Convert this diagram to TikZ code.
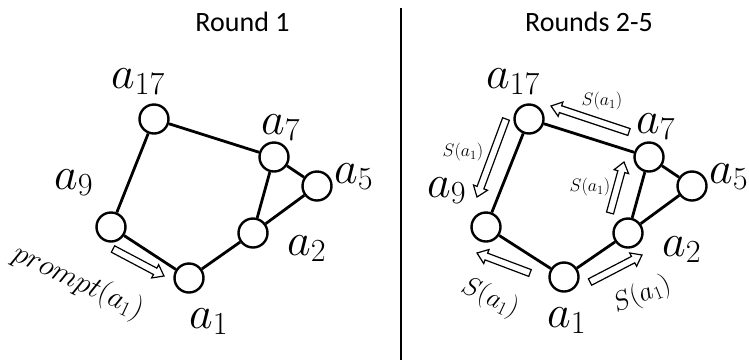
\RequirePackage{fix-cm}
\documentclass[tikz,border=0pt]{standalone}
\usepackage{fontspec}
\newfontfamily\titlefont{Carlito}
\usetikzlibrary{calc}
\tikzset{
  vert/.style={circle, draw, line width=2.4pt, fill=white, minimum size=29pt, inner sep=0pt},
  edge/.style={line width=2.8pt},
  lab/.style={inner sep=0pt, anchor=base west, font=\fontsize{46}{50}\selectfont},
  title/.style={inner sep=0pt, anchor=base, font=\titlefont\fontsize{28}{32}\selectfont},
  harrow/.style={draw, line width=1.2pt, fill=white, line join=miter},
  slab/.style={inner sep=0pt, font=\fontsize{18}{21}\selectfont},
  blab/.style={inner sep=0pt, font=\fontsize{27}{30}\selectfont},
  plab/.style={inner sep=0pt, font=\fontsize{30}{34}\selectfont},
}
\newcommand\hollowarrow[2]{%
  \draw[harrow] ($(#1)!3.6pt!90:(#2)$)
    -- ($(#2)!10pt!(#1)!3.6pt!-90:(#1)$)
    -- ($(#2)!10pt!(#1)!7.5pt!-90:(#1)$)
    -- (#2)
    -- ($(#2)!10pt!(#1)!7.5pt!90:(#1)$)
    -- ($(#2)!10pt!(#1)!3.6pt!90:(#1)$)
    -- ($(#1)!3.6pt!-90:(#2)$) -- cycle;}
\begin{document}
\begin{tikzpicture}[x=1pt, y=-1pt]
\path[fill=white] (0,0) rectangle (749,360);
\useasboundingbox (0,0) rectangle (749,360);
% titles and divider
\node[title] (t1) at (242.5,31.5) {Round 1};
\node[title] (t2) at (589,31.5) {Rounds 2-5};
\coordinate (dtop) at (401,8);
\coordinate (dbot) at (401,360);
\draw[line width=2pt] (dtop) -- (dbot);

% ---------- left graph ----------
\node[vert] (La17) at (154,119) {};
\node[vert] (La7)  at (274,157) {};
\node[vert] (La5)  at (317,186) {};
\node[vert] (La2)  at (253,233) {};
\node[vert] (La1)  at (189,278) {};
\node[vert] (La9)  at (111,227) {};
\draw[edge] (La17) -- (La7);
\draw[edge] (La17) -- (La9);
\draw[edge] (La9) -- (La1);
\draw[edge] (La1) -- (La2);
\draw[edge] (La2) -- (La7);
\draw[edge] (La7) -- (La5);
\draw[edge] (La5) -- (La2);
\node[lab] (Ll17) at (111,88) {$a_{17}$};
\node[lab] (Ll7)  at (261,134) {$a_{7}$};
\node[lab] (Ll5)  at (334,183) {$a_{5}$};
\node[lab] (Ll2)  at (287,255) {$a_{2}$};
\node[lab] (Ll1)  at (189,328) {$a_{1}$};
\node[lab] (Ll9)  at (54,189) {$a_{9}$};
\coordinate (Lp0) at (113,249);
\coordinate (Lp1) at (164,276);
\hollowarrow{Lp0}{Lp1}
\node[plab, rotate=-25] (Lpl) at (78,282) {$prompt(a_1)$};

% ---------- right graph ----------
\node[vert] (Ra17) at (529,119) {};
\node[vert] (Ra7)  at (649,157) {};
\node[vert] (Ra5)  at (692,186) {};
\node[vert] (Ra2)  at (628,233) {};
\node[vert] (Ra1)  at (564,277) {};
\node[vert] (Ra9)  at (486,227) {};
\draw[edge] (Ra17) -- (Ra7);
\draw[edge] (Ra17) -- (Ra9);
\draw[edge] (Ra9) -- (Ra1);
\draw[edge] (Ra1) -- (Ra2);
\draw[edge] (Ra2) -- (Ra7);
\draw[edge] (Ra7) -- (Ra5);
\draw[edge] (Ra5) -- (Ra2);
\node[lab] (Rl17) at (486,88) {$a_{17}$};
\node[lab] (Rl7)  at (636,133) {$a_{7}$};
\node[lab] (Rl5)  at (709,183) {$a_{5}$};
\node[lab] (Rl2)  at (662,256) {$a_{2}$};
\node[lab] (Rl1)  at (547,327) {$a_{1}$};
\node[lab] (Rl9)  at (427,197) {$a_{9}$};

\coordinate (R1s) at (629,132); \coordinate (R1e) at (551,106);
\coordinate (R2s) at (506,119); \coordinate (R2e) at (477,197);
\coordinate (R3s) at (610,213); \coordinate (R3e) at (624,162);
\coordinate (R4s) at (530,273); \coordinate (R4e) at (477,253);
\coordinate (R5s) at (590,282); \coordinate (R5e) at (642,255);
\hollowarrow{R1s}{R1e}
\hollowarrow{R2s}{R2e}
\hollowarrow{R3s}{R3e}
\hollowarrow{R4s}{R4e}
\hollowarrow{R5s}{R5e}
\node[slab] (S1) at (602,101) {$S(a_1)$};
\node[slab] (S2) at (463,152) {$S(a_1)$};
\node[slab] (S3) at (590,187) {$S(a_1)$};
\node[blab, rotate=-25] (S4) at (490,298) {$S(a_1)$};
\node[blab, rotate=22] (S5) at (642,295) {$S(a_1)$};
\end{tikzpicture}
\end{document}
